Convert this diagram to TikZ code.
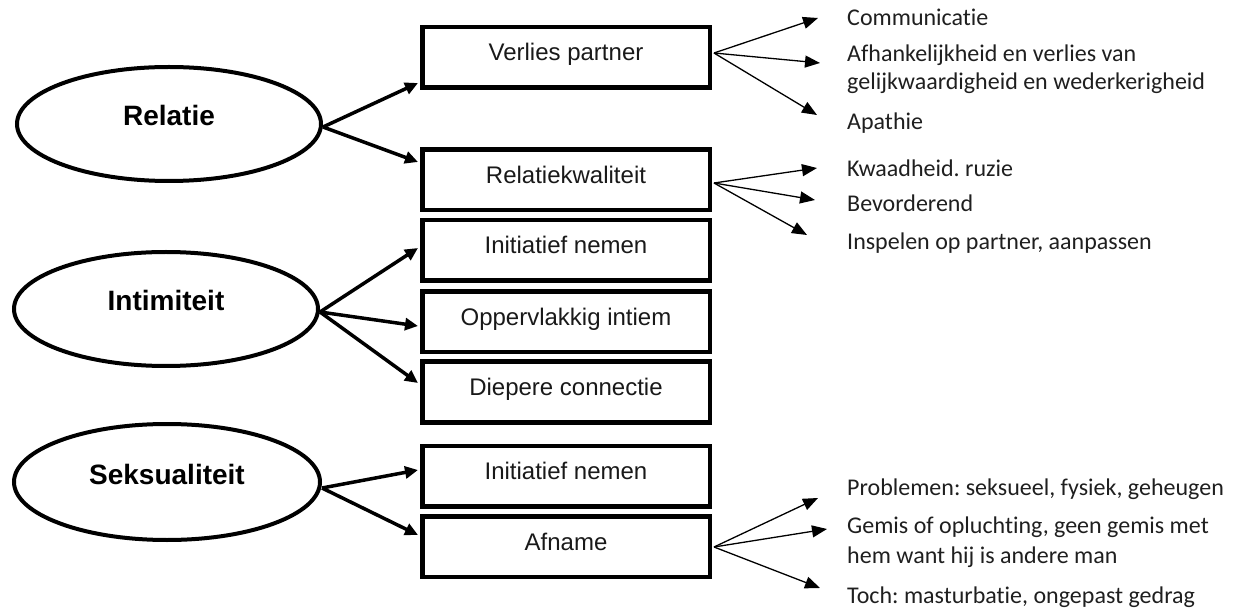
\documentclass[tikz,border=0pt]{standalone}
\usepackage{fontspec}
\setmainfont{Liberation Sans}
\newfontfamily\carl[Ligatures=NoCommon]{Carlito}
\frenchspacing
\usetikzlibrary{arrows.meta,shapes.geometric}
\begin{document}
\begin{tikzpicture}[x=1pt,y=-1pt,
  topic/.style={ellipse,draw,line width=4pt,minimum width=304pt,minimum height=114pt,inner sep=0pt,
    font=\fontsize{28}{32}\selectfont\bfseries,text height=20pt,text depth=16pt},
  box/.style={rectangle,draw,line width=4.5pt,minimum width=287.5pt,minimum height=60.5pt,inner sep=0pt,
    font=\fontsize{24}{28}\selectfont,text height=20pt,text depth=13pt,text=black!90},
  thick/.style={line width=3.5pt,-{Triangle[length=13pt,width=12pt]}},
  thin/.style={line width=1.3pt,-{Triangle[length=15pt,width=12pt]}},
  item/.style={anchor=base west,inner sep=0pt,align=left,text=black!88,font=\carl\fontsize{24}{28}\selectfont},
]
\useasboundingbox (0,0) rectangle (1240,612);
% left ellipses
\node[topic] (rel) at (169,124) {Relatie};
\node[topic] (int) at (166,309) {Intimiteit};
\node[topic,minimum width=306pt,minimum height=116pt] (sek) at (167,482) {Seksualiteit};
% boxes
\node[box] (b1) at (566,57.5) {Verlies partner};
\node[box] (b2) at (566,180) {Relatiekwaliteit};
\node[box] (b3) at (566,250.5) {Initiatief nemen};
\node[box] (b4) at (566,322) {Oppervlakkig intiem};
\node[box] (b5) at (566,392) {Diepere connectie};
\node[box] (b6) at (566,476) {Initiatief nemen};
\node[box] (b7) at (566,546.5) {Afname};
% right texts (multi-line nodes: base = last line)
\node[item] (t1) at (847,26) {Communicatie};
\node[item] (t2) at (847,90) {Afhankelijkheid en verlies van\\gelijkwaardigheid en wederkerigheid};
\node[item] (t3) at (847,130) {Apathie};
\node[item] (t4) at (847,177) {Kwaadheid. ruzie};
\node[item] (t5) at (847,212) {Bevorderend};
\node[item] (t6) at (847,250) {Inspelen op partner, aanpassen};
\node[item] (t7) at (847,495) {Problemen: seksueel, fysiek, geheugen};
\node[item,font=\carl\fontsize{24}{30}\selectfont] (t8) at (847,563) {Gemis of opluchting, geen gemis met\\hem want hij is andere man};
\node[item] (t9) at (847,603) {Toch: masturbatie, ongepast gedrag};
% thin arrow ends
\coordinate (a1) at (818,18);
\coordinate (a2) at (820,63);
\coordinate (a3) at (817,115);
\coordinate (a4) at (817,168);
\coordinate (a5) at (815,200);
\coordinate (a6) at (807,235);
\coordinate (a7) at (818,498);
\coordinate (a8) at (827,529);
\coordinate (a9) at (820,588);
% thick arrows
\draw[thick] ([yshift=-3pt]rel.east) -- ([shift={(-2pt,-25.5pt)}]b1.west);
\draw[thick] ([yshift=-3pt]rel.east) -- ([shift={(-2pt,18pt)}]b2.west);
\draw[thick] ([yshift=-3pt]int.east) -- ([shift={(-2pt,2.5pt)}]b3.west);
\draw[thick] ([yshift=-3pt]int.east) -- ([shift={(-2pt,-4pt)}]b4.west);
\draw[thick] ([yshift=-3pt]int.east) -- ([shift={(-2pt,9pt)}]b5.west);
\draw[thick] ([yshift=-6pt]sek.east) -- ([shift={(-2pt,6pt)}]b6.west);
\draw[thick] ([yshift=-6pt]sek.east) -- ([shift={(-2pt,11.5pt)}]b7.west);
% thin arrows
\draw[thin] ([shift={(2pt,4.5pt)}]b1.east) -- (a1);
\draw[thin] ([shift={(2pt,4.5pt)}]b1.east) -- (a2);
\draw[thin] ([shift={(2pt,4.5pt)}]b1.east) -- (a3);
\draw[thin] ([shift={(2pt,-3pt)}]b2.east) -- (a4);
\draw[thin] ([shift={(2pt,-3pt)}]b2.east) -- (a5);
\draw[thin] ([shift={(2pt,-3pt)}]b2.east) -- (a6);
\draw[thin] ([shift={(2pt,-0.5pt)}]b7.east) -- (a7);
\draw[thin] ([shift={(2pt,-0.5pt)}]b7.east) -- (a8);
\draw[thin] ([shift={(2pt,-0.5pt)}]b7.east) -- (a9);
\end{tikzpicture}
\end{document}
